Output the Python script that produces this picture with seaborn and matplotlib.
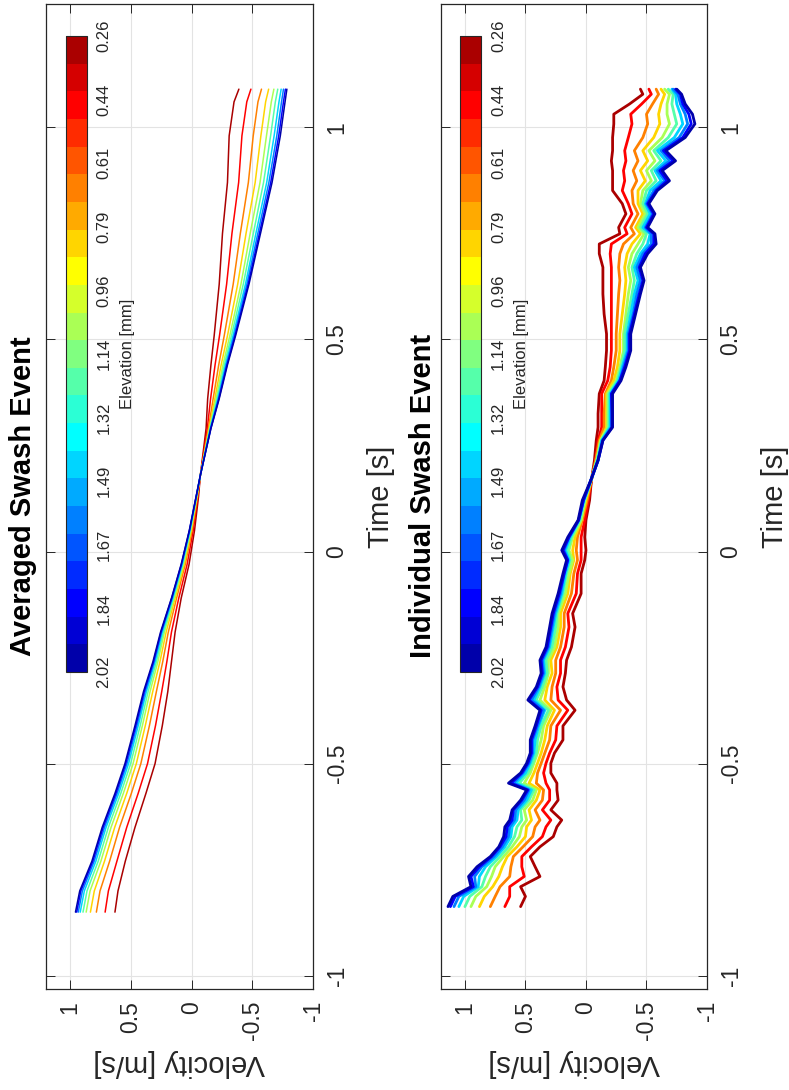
import numpy as np
import pandas as pd
import matplotlib
matplotlib.use("Agg")
import matplotlib.pyplot as plt
import seaborn as sns
from matplotlib.colors import ListedColormap, Normalize
from matplotlib.cm import ScalarMappable

# ---------------- data ----------------
elevations = [0.26, 0.42, 0.66, 0.82, 1.06, 1.22, 1.46, 1.62, 1.86, 2.02]  # mm

# Averaged swash event: one row per time, one value per elevation (low -> high)
avg_time = [-0.85, -0.80, -0.73, -0.65, -0.57, -0.50, -0.41, -0.33, -0.26, -0.19,
            -0.11, -0.03, 0.05, 0.13, 0.18, 0.29, 0.36, 0.44, 0.51, 0.63,
            0.75, 0.87, 0.98, 1.06, 1.09]
avg_velocity = [
    [0.630, 0.711, 0.783, 0.832, 0.867, 0.893, 0.916, 0.932, 0.945, 0.955],
    [0.605, 0.684, 0.753, 0.800, 0.835, 0.860, 0.882, 0.898, 0.911, 0.920],
    [0.545, 0.614, 0.674, 0.716, 0.746, 0.768, 0.787, 0.801, 0.812, 0.820],
    [0.465, 0.533, 0.592, 0.632, 0.662, 0.684, 0.703, 0.716, 0.727, 0.735],
    [0.375, 0.439, 0.495, 0.533, 0.561, 0.582, 0.599, 0.612, 0.622, 0.630],
    [0.300, 0.362, 0.417, 0.454, 0.481, 0.501, 0.518, 0.531, 0.541, 0.548],
    [0.240, 0.296, 0.346, 0.380, 0.404, 0.422, 0.438, 0.449, 0.458, 0.465],
    [0.195, 0.245, 0.289, 0.319, 0.341, 0.357, 0.371, 0.381, 0.389, 0.395],
    [0.165, 0.203, 0.237, 0.260, 0.277, 0.289, 0.300, 0.307, 0.313, 0.318],
    [0.135, 0.165, 0.191, 0.209, 0.223, 0.232, 0.241, 0.247, 0.251, 0.255],
    [0.085, 0.105, 0.123, 0.135, 0.143, 0.150, 0.155, 0.159, 0.163, 0.165],
    [0.020, 0.036, 0.051, 0.060, 0.067, 0.073, 0.077, 0.080, 0.083, 0.085],
    [-0.025, -0.014, -0.005, 0.002, 0.006, 0.010, 0.013, 0.015, 0.017, 0.018],
    [-0.058, -0.053, -0.049, -0.046, -0.043, -0.042, -0.040, -0.039, -0.039, -0.038],
    [-0.073, -0.073, -0.073, -0.073, -0.073, -0.073, -0.073, -0.073, -0.073, -0.073],
    [-0.120, -0.130, -0.139, -0.145, -0.149, -0.152, -0.155, -0.157, -0.159, -0.160],
    [-0.133, -0.157, -0.178, -0.192, -0.202, -0.210, -0.217, -0.221, -0.225, -0.228],
    [-0.160, -0.194, -0.224, -0.244, -0.259, -0.270, -0.280, -0.286, -0.292, -0.296],
    [-0.187, -0.231, -0.270, -0.297, -0.316, -0.330, -0.343, -0.352, -0.359, -0.364],
    [-0.228, -0.289, -0.343, -0.380, -0.407, -0.426, -0.444, -0.456, -0.466, -0.473],
    [-0.255, -0.333, -0.402, -0.449, -0.483, -0.509, -0.530, -0.546, -0.559, -0.568],
    [-0.296, -0.388, -0.468, -0.524, -0.564, -0.593, -0.619, -0.637, -0.652, -0.663],
    [-0.310, -0.415, -0.508, -0.571, -0.617, -0.651, -0.680, -0.702, -0.718, -0.731],
    [-0.350, -0.455, -0.547, -0.610, -0.657, -0.690, -0.720, -0.741, -0.757, -0.770],
    [-0.390, -0.489, -0.576, -0.635, -0.678, -0.710, -0.738, -0.757, -0.773, -0.785],
]

# Individual swash event
ind_time = [-0.837, -0.813, -0.790, -0.766, -0.743, -0.719, -0.696, -0.672, -0.649, -0.633,
            -0.609, -0.586, -0.562, -0.546, -0.522, -0.499, -0.475, -0.444, -0.411, -0.374,
            -0.350, -0.319, -0.287, -0.256, -0.225, -0.178, -0.146, -0.099, -0.052, -0.020,
            0.003, 0.034, 0.074, 0.121, 0.168, 0.215, 0.262, 0.293, 0.325, 0.372,
            0.403, 0.435, 0.474, 0.513, 0.560, 0.607, 0.639, 0.670, 0.702, 0.725,
            0.749, 0.764, 0.796, 0.820, 0.851, 0.874, 0.898, 0.921, 0.945, 0.976,
            1.008, 1.031, 1.055, 1.078, 1.090]
ind_velocity = [
    [0.54, 0.67, 0.79, 0.88, 0.95, 1.00, 1.05, 1.09, 1.12, 1.14],
    [0.50, 0.63, 0.75, 0.84, 0.91, 0.96, 1.01, 1.05, 1.08, 1.10],
    [0.54, 0.63, 0.71, 0.77, 0.82, 0.86, 0.89, 0.91, 0.93, 0.95],
    [0.38, 0.51, 0.63, 0.72, 0.78, 0.83, 0.88, 0.92, 0.95, 0.97],
    [0.42, 0.53, 0.62, 0.69, 0.75, 0.79, 0.83, 0.86, 0.88, 0.90],
    [0.46, 0.53, 0.60, 0.65, 0.68, 0.71, 0.74, 0.76, 0.78, 0.79],
    [0.38, 0.45, 0.52, 0.57, 0.61, 0.64, 0.67, 0.69, 0.71, 0.72],
    [0.27, 0.36, 0.44, 0.50, 0.55, 0.59, 0.62, 0.64, 0.66, 0.68],
    [0.24, 0.33, 0.42, 0.49, 0.53, 0.57, 0.61, 0.63, 0.65, 0.67],
    [0.20, 0.29, 0.38, 0.45, 0.49, 0.53, 0.57, 0.59, 0.61, 0.63],
    [0.29, 0.36, 0.42, 0.47, 0.51, 0.54, 0.56, 0.58, 0.60, 0.61],
    [0.23, 0.30, 0.36, 0.41, 0.44, 0.47, 0.49, 0.51, 0.53, 0.54],
    [0.24, 0.30, 0.35, 0.38, 0.41, 0.43, 0.45, 0.47, 0.48, 0.49],
    [0.24, 0.33, 0.41, 0.47, 0.51, 0.55, 0.58, 0.60, 0.62, 0.64],
    [0.29, 0.35, 0.40, 0.43, 0.46, 0.48, 0.50, 0.52, 0.53, 0.54],
    [0.29, 0.33, 0.37, 0.40, 0.43, 0.44, 0.46, 0.47, 0.48, 0.49],
    [0.26, 0.30, 0.34, 0.37, 0.40, 0.41, 0.43, 0.44, 0.45, 0.46],
    [0.19, 0.25, 0.30, 0.34, 0.37, 0.40, 0.42, 0.44, 0.45, 0.46],
    [0.19, 0.24, 0.29, 0.32, 0.35, 0.37, 0.39, 0.40, 0.41, 0.42],
    [0.09, 0.15, 0.21, 0.26, 0.29, 0.31, 0.34, 0.35, 0.37, 0.38],
    [0.16, 0.23, 0.29, 0.34, 0.38, 0.41, 0.43, 0.45, 0.47, 0.48],
    [0.19, 0.24, 0.28, 0.32, 0.34, 0.36, 0.38, 0.39, 0.40, 0.41],
    [0.17, 0.21, 0.25, 0.28, 0.31, 0.32, 0.34, 0.35, 0.36, 0.37],
    [0.16, 0.21, 0.25, 0.29, 0.31, 0.33, 0.35, 0.36, 0.37, 0.38],
    [0.12, 0.17, 0.21, 0.24, 0.26, 0.28, 0.30, 0.31, 0.32, 0.33],
    [0.09, 0.14, 0.18, 0.21, 0.23, 0.25, 0.27, 0.28, 0.29, 0.30],
    [0.11, 0.15, 0.18, 0.21, 0.23, 0.24, 0.25, 0.26, 0.27, 0.28],
    [0.04, 0.08, 0.12, 0.15, 0.17, 0.19, 0.20, 0.21, 0.22, 0.23],
    [0.04, 0.07, 0.10, 0.13, 0.14, 0.16, 0.17, 0.18, 0.18, 0.19],
    [0.01, 0.04, 0.07, 0.10, 0.11, 0.13, 0.14, 0.15, 0.15, 0.16],
    [0.00, 0.04, 0.08, 0.11, 0.14, 0.15, 0.17, 0.18, 0.19, 0.20],
    [0.01, 0.04, 0.07, 0.09, 0.11, 0.12, 0.13, 0.14, 0.14, 0.15],
    [0.00, 0.01, 0.03, 0.04, 0.04, 0.05, 0.06, 0.06, 0.06, 0.065],
    [-0.03, -0.02, -0.01, 0.00, 0.01, 0.01, 0.02, 0.02, 0.02, 0.03],
    [-0.045, -0.045, -0.044, -0.043, -0.043, -0.042, -0.041, -0.041, -0.040, -0.040],
    [-0.07, -0.08, -0.08, -0.09, -0.09, -0.09, -0.10, -0.10, -0.10, -0.10],
    [-0.085, -0.10, -0.11, -0.12, -0.12, -0.13, -0.13, -0.135, -0.14, -0.14],
    [-0.10, -0.13, -0.15, -0.17, -0.18, -0.19, -0.20, -0.21, -0.215, -0.22],
    [-0.10, -0.13, -0.15, -0.17, -0.18, -0.19, -0.20, -0.21, -0.215, -0.22],
    [-0.11, -0.13, -0.16, -0.17, -0.18, -0.19, -0.20, -0.21, -0.21, -0.22],
    [-0.15, -0.18, -0.21, -0.23, -0.25, -0.26, -0.27, -0.28, -0.28, -0.29],
    [-0.16, -0.20, -0.23, -0.26, -0.28, -0.29, -0.30, -0.31, -0.32, -0.33],
    [-0.17, -0.21, -0.25, -0.28, -0.31, -0.32, -0.34, -0.35, -0.36, -0.37],
    [-0.17, -0.21, -0.25, -0.28, -0.31, -0.32, -0.34, -0.35, -0.36, -0.37],
    [-0.15, -0.21, -0.26, -0.30, -0.33, -0.35, -0.37, -0.39, -0.40, -0.41],
    [-0.14, -0.21, -0.27, -0.32, -0.35, -0.38, -0.40, -0.42, -0.44, -0.45],
    [-0.14, -0.21, -0.28, -0.33, -0.37, -0.40, -0.43, -0.45, -0.47, -0.48],
    [-0.14, -0.21, -0.27, -0.32, -0.35, -0.38, -0.40, -0.42, -0.44, -0.45],
    [-0.11, -0.20, -0.28, -0.34, -0.38, -0.42, -0.45, -0.47, -0.49, -0.51],
    [-0.11, -0.21, -0.31, -0.38, -0.43, -0.47, -0.51, -0.54, -0.56, -0.58],
    [-0.28, -0.34, -0.40, -0.45, -0.48, -0.50, -0.53, -0.54, -0.56, -0.57],
    [-0.27, -0.32, -0.37, -0.41, -0.43, -0.45, -0.47, -0.49, -0.50, -0.51],
    [-0.33, -0.38, -0.43, -0.47, -0.49, -0.51, -0.53, -0.55, -0.56, -0.57],
    [-0.30, -0.35, -0.39, -0.43, -0.45, -0.47, -0.49, -0.50, -0.51, -0.52],
    [-0.22, -0.30, -0.38, -0.43, -0.47, -0.50, -0.53, -0.56, -0.58, -0.59],
    [-0.22, -0.32, -0.42, -0.49, -0.54, -0.58, -0.62, -0.65, -0.67, -0.69],
    [-0.22, -0.31, -0.39, -0.45, -0.50, -0.54, -0.57, -0.59, -0.61, -0.63],
    [-0.21, -0.33, -0.43, -0.51, -0.57, -0.62, -0.66, -0.69, -0.72, -0.74],
    [-0.22, -0.32, -0.40, -0.47, -0.52, -0.56, -0.59, -0.62, -0.64, -0.66],
    [-0.22, -0.35, -0.47, -0.56, -0.63, -0.68, -0.73, -0.77, -0.80, -0.82],
    [-0.23, -0.38, -0.51, -0.61, -0.69, -0.75, -0.80, -0.84, -0.87, -0.90],
    [-0.23, -0.37, -0.50, -0.60, -0.67, -0.73, -0.78, -0.82, -0.85, -0.88],
    [-0.36, -0.46, -0.55, -0.62, -0.67, -0.71, -0.75, -0.78, -0.80, -0.82],
    [-0.47, -0.54, -0.60, -0.65, -0.69, -0.72, -0.74, -0.76, -0.78, -0.79],
    [-0.45, -0.52, -0.58, -0.62, -0.65, -0.68, -0.71, -0.72, -0.74, -0.75],
]

titles = ["Averaged Swash Event", "Individual Swash Event"]
time_ticks = [-1, -0.5, 0, 0.5, 1]
time_labels = ["-1", "-0.5", "0", "0.5", "1"]
vel_ticks = [-1, -0.5, 0, 0.5, 1]
vel_labels = ["-1", "-0.5", "0", "0.5", "1"]
cbar_ticks = [0.26, 0.436, 0.612, 0.788, 0.964, 1.14, 1.316, 1.492, 1.668, 1.844, 2.02]
cbar_labels = ["0.26", "0.44", "0.61", "0.79", "0.96", "1.14", "1.32", "1.49", "1.67", "1.84", "2.02"]
elev_range = (0.26, 2.02)


# ---------------- styling helpers ----------------
def matlab_jet(m):
    n = int(np.ceil(m / 4))
    u = np.r_[np.arange(1, n + 1) / n, np.ones(n - 1), np.arange(n, 0, -1) / n]
    g = int(np.ceil(n / 2)) - (1 if m % 4 == 1 else 0) + np.arange(1, len(u) + 1)
    r = g + n
    b = g - n
    J = np.zeros((m, 3))
    J[r[r <= m] - 1, 0] = u[r <= m]
    J[g[g <= m] - 1, 1] = u[g <= m]
    J[b[b >= 1] - 1, 2] = u[b >= 1]
    return J


cmap = ListedColormap(matlab_jet(23)[::-1])
norm = Normalize(*elev_range)
palette = {e: cmap(norm(e)) for e in elevations}


def long_frame(times, table):
    rows = []
    for t, vals in zip(times, table):
        for e, v in zip(elevations, vals):
            rows.append((t, e, v))
    return pd.DataFrame(rows, columns=["time", "elevation", "velocity"])


frames = [long_frame(avg_time, avg_velocity), long_frame(ind_time, ind_velocity)]
line_widths = [1.1, 2.0]

sns.set_style("white")
plt.rcParams["font.family"] = ["Liberation Sans", "DejaVu Sans"]
dark = "#262626"

W, H = 789, 1090
fig = plt.figure(figsize=(W / 100, H / 100), dpi=100)

ax_left_px = [45.7, 440.7]
ax_right_px = [313.0, 707.0]
ax_top_px, ax_bot_px = 4.3, 988.5
cb_left_px = [65.7, 460.3]
cb_w_px = 21.0
cb_top_px, cb_bot_px = 36.0, 672.0
title_x_px = [23, 423]

for i in range(2):
    ax = fig.add_axes([ax_left_px[i] / W, 1 - ax_bot_px / H,
                       (ax_right_px[i] - ax_left_px[i]) / W, (ax_bot_px - ax_top_px) / H])
    ax.set_axisbelow(True)
    ax.grid(True, color="#e3e3e3", linewidth=0.8)
    sns.lineplot(data=frames[i], x="velocity", y="time", hue="elevation",
                 palette=palette, estimator=None, orient="y", sort=True,
                 legend=False, ax=ax, linewidth=line_widths[i])
    ax.set_xlim(1.2, -1)
    ax.set_ylim(-1.03, 1.29)
    ax.set_xticks(vel_ticks)
    ax.set_xticklabels(vel_labels, rotation=90)
    ax.set_yticks(time_ticks)
    ax.set_yticklabels(time_labels, rotation=90, va="center")
    ax.tick_params(axis="both", direction="in", length=6.5, width=0.7, colors=dark,
                   top=True, bottom=True, left=True, right=True,
                   labelleft=False, labelright=True, labelsize=16.5, pad=9)
    for s in ax.spines.values():
        s.set_color(dark)
        s.set_linewidth(0.9)
    ax.yaxis.set_label_position("right")
    ax.set_ylabel("Time [s]", rotation=90, fontsize=21, color=dark, labelpad=13)
    ax.set_xlabel("Velocity [m/s]", rotation=180, fontsize=21, color=dark, labelpad=6)

    fig.text(title_x_px[i] / W, 1 - 496 / H, titles[i], rotation=90, ha="center",
             va="center", fontsize=21, fontweight="bold", color="black")

    cax = fig.add_axes([cb_left_px[i] / W, 1 - cb_bot_px / H, cb_w_px / W,
                        (cb_bot_px - cb_top_px) / H])
    sm = ScalarMappable(norm=norm, cmap=cmap)
    cb = fig.colorbar(sm, cax=cax, orientation="vertical")
    cax.invert_yaxis()
    cb.set_ticks(cbar_ticks)
    cb.set_ticklabels(cbar_labels)
    cb.outline.set_edgecolor(dark)
    cb.outline.set_linewidth(0.8)
    cax.yaxis.set_ticks_position("right")
    cax.tick_params(axis="y", direction="in", length=4, width=0.6, colors=dark,
                    labelsize=12, pad=7, labelrotation=90)
    for lab in cax.get_yticklabels():
        lab.set_va("center")
    cax.yaxis.set_label_position("right")
    cax.set_ylabel("Elevation [mm]", rotation=90, fontsize=12, color=dark, labelpad=6)

fig.savefig("out.png", dpi=100)
